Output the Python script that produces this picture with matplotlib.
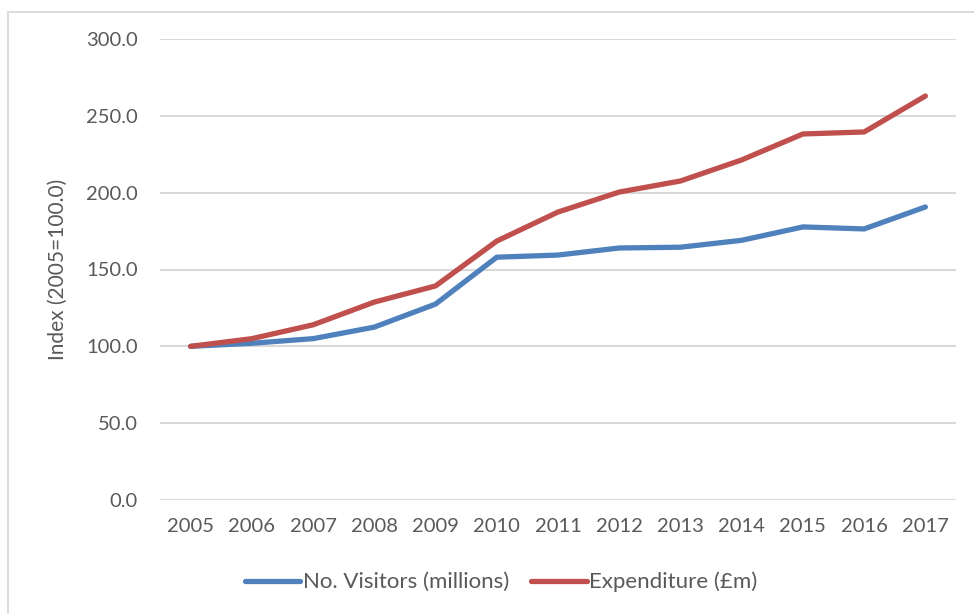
import matplotlib
matplotlib.use("Agg")
import matplotlib.pyplot as plt
from matplotlib.patches import Rectangle

years = ["2005", "2006", "2007", "2008", "2009", "2010", "2011", "2012",
         "2013", "2014", "2015", "2016", "2017"]
visitors = [100.0, 102.0, 105.0, 112.5, 127.5, 158.0, 159.4, 164.0, 164.5,
            169.0, 177.7, 176.4, 190.7]
expenditure = [100.0, 105.0, 114.0, 128.8, 139.3, 168.5, 187.4, 200.4, 207.6,
               221.3, 238.2, 239.5, 262.9]
yticks = [0, 50, 100, 150, 200, 250, 300]

plt.rcParams['font.family'] = ['Lato', 'DejaVu Sans']
FS = 14.5

fig = plt.figure(figsize=(9.74, 6.14), dpi=100)
W, H = 974, 614
ax = fig.add_axes([160 / W, 1 - 500 / H, (956 - 160) / W, (500 - 39) / H])

x = list(range(len(years)))
ax.plot(x, visitors, color="#4F81BD", lw=3.8, solid_capstyle="round",
        solid_joinstyle="round", label="No. Visitors (millions)", zorder=3)
ax.plot(x, expenditure, color="#C0504D", lw=3.8, solid_capstyle="round",
        solid_joinstyle="round", label="Expenditure (£m)", zorder=3)

ax.set_xlim(-0.5, len(years) - 0.5)
ax.set_ylim(0, 300)
ax.set_yticks(yticks)
ax.set_yticklabels([f"{v:.1f}" for v in yticks])
ax.set_xticks(x)
ax.set_xticklabels(years)
ax.grid(axis="y", color="#d9d9d9", lw=1.5)
ax.set_axisbelow(True)
for s in ax.spines.values():
    s.set_visible(False)
ax.tick_params(length=0, labelsize=FS, colors="#595959")
ax.tick_params(axis="x", pad=13)
ax.tick_params(axis="y", pad=16)
ax.set_ylabel("Index (2005=100.0)", fontsize=15, color="#595959")
ax.yaxis.set_label_coords((68 - 160) / 796, 0.5)

leg = fig.legend(loc="center", bbox_to_anchor=(501 / W, 1 - 582 / H), ncol=2,
                 frameon=False, fontsize=16, handlelength=2.5,
                 handletextpad=0.1, columnspacing=1.0)
for t in leg.get_texts():
    t.set_color("#595959")

fig.patches.append(Rectangle((8 / W, -0.1), 1.1, 1 - 12 / H + 0.1,
                             transform=fig.transFigure, fill=False,
                             edgecolor="#d9d9d9", lw=1.3))

fig.savefig("out.png", dpi=100)
